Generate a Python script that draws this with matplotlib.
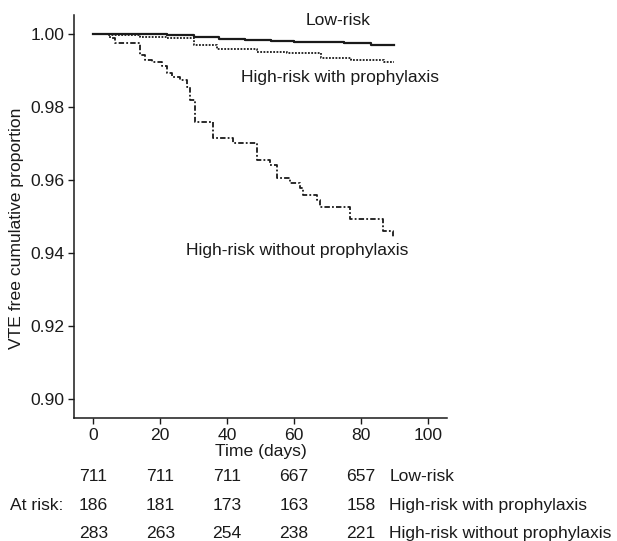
import numpy as np
import matplotlib
matplotlib.use('Agg')
import matplotlib.pyplot as plt
import matplotlib.transforms as mtransforms

plt.rcParams['font.family'] = ['Liberation Sans', 'DejaVu Sans']

# Kaplan-Meier curves (day, proportion)
low_days = [0, 14, 22, 30, 37.5, 45.5, 53, 60, 68, 75, 83, 90]
low_surv = [1.0, 0.9998, 0.9995, 0.9991, 0.9985, 0.9982, 0.9980, 0.9978,
            0.9976, 0.9973, 0.9970, 0.9968]

proph_days = [0, 4, 14, 22, 30, 37, 49, 58, 68, 77, 87, 90]
proph_surv = [1.0, 0.9996, 0.9991, 0.9988, 0.9968, 0.9957, 0.9950, 0.9947,
              0.9932, 0.9929, 0.9921, 0.9921]

noproph_days = [0, 5.0, 6.5, 14.0, 15.5, 17.6, 20.6, 22.0, 23.5, 25.9, 28.0,
                29.0, 30.5, 35.8, 41.8, 48.9, 52.8, 54.9, 58.8, 61.8, 62.7,
                66.9, 67.8, 76.8, 86.7, 89.7, 90]
noproph_surv = [1.0, 0.9989, 0.9975, 0.9940, 0.9929, 0.9921, 0.9910, 0.9893,
                0.9882, 0.9874, 0.9855, 0.9819, 0.9759, 0.9715, 0.9701,
                0.9655, 0.9641, 0.9605, 0.9592, 0.9578, 0.9559, 0.9545,
                0.9526, 0.9493, 0.9458, 0.9444, 0.9444]

risk_times = [0, 20, 40, 60, 80]
risk_low = [711, 711, 711, 667, 657]
risk_proph = [186, 181, 173, 163, 158]
risk_noproph = [283, 263, 254, 238, 221]
group_names = ['Low-risk', 'High-risk with prophylaxis', 'High-risk without prophylaxis']

col = '#1a1a1a'
fs = 12.6

fig = plt.figure(figsize=(6.17, 5.41), dpi=100)
ax = fig.add_axes([0.1204, 0.2268, 0.6036, 0.7455])

ax.step(low_days, low_surv, where='post', color=col, lw=1.6, ls='-')
ax.step(proph_days, proph_surv, where='post', color=col, lw=1.3, ls=(0, (1, 0.8)))
ax.step(noproph_days, noproph_surv, where='post', color=col, lw=1.3,
        ls=(0, (3, 1.2, 1, 1.2)))

ax.text(73.3, 1.0037, group_names[0], ha='center', va='center', fontsize=fs,
        color=col, clip_on=False)
ax.text(73.9, 0.9881, group_names[1], ha='center', va='center', fontsize=fs,
        color=col)
ax.text(60.9, 0.9407, group_names[2], ha='center', va='center', fontsize=fs,
        color=col)

ax.set_xlim(-5.7, 105.7)
ax.set_ylim(0.8946, 1.0051)
ax.set_xticks([0, 20, 40, 60, 80, 100])
ax.set_yticks([0.90, 0.92, 0.94, 0.96, 0.98, 1.00])
ax.set_yticklabels(['%.2f' % v for v in [0.90, 0.92, 0.94, 0.96, 0.98, 1.00]])
ax.tick_params(direction='out', length=4, width=1, labelsize=fs,
               colors=col, pad=3)
for s in ['top', 'right']:
    ax.spines[s].set_visible(False)
for s in ['left', 'bottom']:
    ax.spines[s].set_linewidth(1.1)
    ax.spines[s].set_color(col)

ax.set_xlabel('Time (days)', fontsize=fs, color=col, labelpad=1)
ax.set_ylabel('VTE free cumulative proportion', fontsize=fs, color=col)
ax.yaxis.set_label_coords(-0.135, 0.47)

# number at risk table
trans = mtransforms.blended_transform_factory(ax.transData, fig.transFigure)
rows_y = [0.119, 0.066, 0.013]
for yy, counts, name in zip(rows_y, [risk_low, risk_proph, risk_noproph], group_names):
    for t, n in zip(risk_times, counts):
        fig.text(t, yy, str(n), transform=trans, ha='center', va='center',
                 fontsize=fs, color=col)
    fig.text(88.5, yy, name, transform=trans, ha='left', va='center',
             fontsize=fs, color=col)
fig.text(-9.1, rows_y[1], 'At risk:', transform=trans, ha='right', va='center',
         fontsize=fs, color=col)

fig.savefig('out.png', dpi=100)
